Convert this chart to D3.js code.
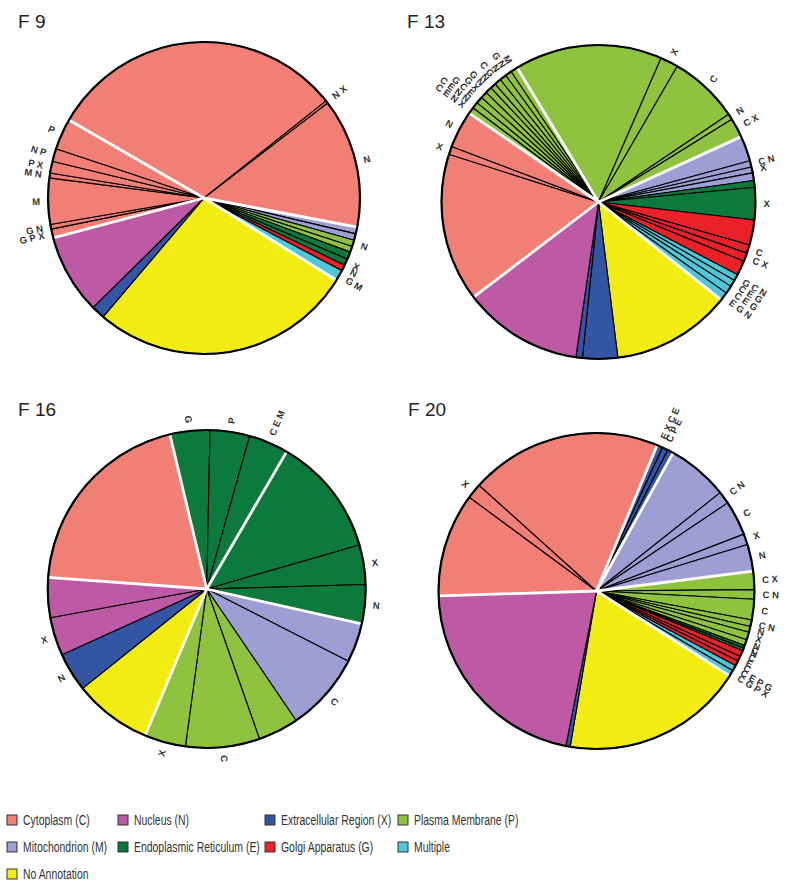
<!DOCTYPE html>
<html>
<head>
<meta charset="utf-8">
<script src="https://cdn.jsdelivr.net/npm/d3@7"></script>
<style>
  body { margin: 0; background: #fff; }
</style>
</head>
<body>
<svg id="chart" width="800" height="888"></svg>
<script>
// categories (legend order), names and fills
var catKeys   = ["C", "N", "X", "P", "M", "E", "G", "Multi", "None"];
var catNames  = ["Cytoplasm (C)", "Nucleus (N)", "Extracellular Region (X)", "Plasma Membrane (P)",
                 "Mitochondrion (M)", "Endoplasmic Reticulum (E)", "Golgi Apparatus (G)", "Multiple",
                 "No Annotation"];
var catColors = ["#f17f76", "#be59a6", "#3454a4", "#8fc23f", "#9d9ed3", "#0d7a3d", "#ea2228", "#4fc7d8", "#f3ec12"];

var panelTitles = ["F 9", "F 13", "F 16", "F 20"];

// slices in clockwise order: [primary category, share, secondary label, white edge before]
var f9 = [
  ["C", 3.3, "G P X", 1], ["C", 1.7, "G N", 0], ["C", 17.2, "M", 0], ["C", 1.8, "M N", 0],
  ["C", 4.4, "P X", 0], ["C", 4.8, "N P", 0], ["C", 11.6, "P", 0], ["C", 111.5, "", 1],
  ["C", 1.0, "N X", 0], ["C", 48.3, "N", 0],
  ["M", 2.5, "", 1], ["M", 2.4, "", 0],
  ["P", 2.4, "N", 0], ["P", 2.2, "", 0],
  ["E", 2.8, "", 0], ["E", 2.4, "X", 0],
  ["G", 2.3, "N", 0],
  ["Multi", 4.0, "G M", 0],
  ["None", 98.5, "", 1],
  ["X", 5.1, "", 0],
  ["N", 29.8, "", 0]
];
var f13 = [
  ["P", 2.4, "C E N X", 1], ["P", 2.4, "C E N N", 0], ["P", 2.5, "G C E", 0], ["P", 2.5, "G X", 0],
  ["P", 2.4, "G N", 0], ["P", 2.1, "N", 0], ["P", 2.5, "C G", 0], ["P", 2.5, "N", 0],
  ["P", 2.4, "G N", 0], ["P", 2.6, "M", 0],
  ["P", 54.7, "", 1], ["P", 6.6, "X", 0], ["P", 25.9, "C", 0], ["P", 2.2, "N", 0], ["P", 7.2, "C X", 0],
  ["M", 9.4, "", 1], ["M", 2.3, "C N", 0], ["M", 2.2, "X", 0], ["M", 2.8, "", 0],
  ["E", 2.5, "", 0], ["E", 12.0, "X", 0],
  ["G", 9.3, "", 0], ["G", 3.1, "C", 0], ["G", 3.2, "C X", 0], ["G", 5.4, "", 0],
  ["Multi", 2.4, "G C N", 0], ["Multi", 2.5, "C E G", 0], ["Multi", 3.0, "C E G", 0], ["Multi", 3.1, "E G N", 0],
  ["None", 44.3, "", 1],
  ["X", 13.0, "", 0], ["X", 2.4, "", 0],
  ["N", 44.4, "", 0],
  ["C", 55.0, "", 1], ["C", 3.0, "X", 0], ["C", 13.8, "N", 0]
];
var f16 = [
  ["E", 14.6, "G", 1], ["E", 14.5, "P", 0], ["E", 14.5, "C E M", 0], ["E", 43.7, "", 1],
  ["E", 14.5, "X", 0], ["E", 14.3, "N", 0],
  ["M", 14.3, "", 1], ["M", 28.8, "C", 0],
  ["P", 14.8, "", 0], ["P", 27.1, "C", 0], ["P", 15.1, "X", 0],
  ["None", 28.5, "", 1],
  ["X", 14.3, "N", 0],
  ["N", 14.0, "X", 0], ["N", 14.6, "", 0],
  ["C", 72.4, "", 1]
];
var f20 = [
  ["C", 38.2, "", 1], ["C", 5.6, "X", 0], ["C", 70.6, "", 0],
  ["X", 2.1, "E X C E", 1], ["X", 2.1, "C P E", 0], ["X", 2.2, "", 0],
  ["M", 22.5, "", 1], ["M", 4.6, "C N", 0], ["M", 12.8, "C", 0], ["M", 4.0, "X", 0], ["M", 9.9, "N", 0],
  ["P", 6.7, "C X", 1], ["P", 3.5, "C N", 0], ["P", 7.6, "C", 0], ["P", 2.4, "C N", 0],
  ["P", 2.1, "N", 0], ["P", 2.9, "X", 0], ["P", 2.2, "N", 0],
  ["E", 1.0, "C", 0], ["E", 1.0, "N", 0],
  ["G", 2.3, "C", 0], ["G", 1.8, "E", 0], ["G", 1.9, "C", 0],
  ["Multi", 2.1, "C E P G", 0], ["Multi", 2.2, "C G P X", 0],
  ["None", 67.1, "", 1],
  ["X", 1.6, "", 0],
  ["N", 77.0, "", 0]
];

var panels = [f9, f13, f16, f20];

// layout
var centers   = [[204, 198], [598.5, 202], [206.7, 589], [596.5, 591]];
var radii     = [156, 157, 159, 158];
var rotations = [255.2, 304.5, 346.6, 268.2];   // degrees clockwise from 12 o'clock
var titlePos  = [[18, 28], [407, 28], [18, 416], [408, 416]];

var svg = d3.select("#chart");
var color = d3.scaleOrdinal().domain(catKeys).range(catColors);
var toRad = Math.PI / 180;

function midDeg(d) {
  var m = ((d.startAngle + d.endAngle) / 2) / toRad;
  return ((m % 360) + 360) % 360;
}

panels.forEach(function(rows, i) {
  var R = radii[i],
      a0 = rotations[i] * toRad;

  var pie = d3.pie().sort(null).value(function(d) { return d[1]; })
              .startAngle(a0).endAngle(a0 + 2 * Math.PI);
  var arcs = pie(rows);
  var arc = d3.arc().innerRadius(0).outerRadius(R);

  svg.append("text")
     .attr("x", titlePos[i][0]).attr("y", titlePos[i][1])
     .attr("font-family", "Liberation Sans, Arial, sans-serif")
     .attr("font-size", 19)
     .attr("fill", "#222")
     .text(panelTitles[i]);

  var g = svg.append("g").attr("transform", "translate(" + centers[i] + ")");

  g.selectAll("path.slice").data(arcs).enter().append("path")
   .attr("class", "slice")
   .attr("d", arc)
   .attr("fill", function(d) { return color(d.data[0]); })
   .attr("stroke", "#000")
   .attr("stroke-width", 1.1)
   .attr("stroke-linejoin", "round");

  //white separators
  g.selectAll("line.sep").data(arcs.filter(function(d) { return d.data[3]; })).enter().append("line")
   .attr("class", "sep")
   .attr("x1", 0).attr("y1", 0)
   .attr("x2", function(d) { return R * Math.sin(d.startAngle); })
   .attr("y2", function(d) { return -R * Math.cos(d.startAngle); })
   .attr("stroke", "#fff")
   .attr("stroke-width", 2.8);

  g.append("circle")
   .attr("r", R)
   .attr("fill", "none")
   .attr("stroke", "#000")
   .attr("stroke-width", 2.2);

  // radial labels, read outward on the right half, inward on the left
  g.selectAll("text.lab").data(arcs.filter(function(d) { return d.data[2]; })).enter().append("text")
   .attr("class", "lab")
   .attr("transform", function(d) {
     var m = midDeg(d);
     var t = "rotate(" + (m - 90) + ") translate(" + (R + 8) + ",0)";
     if (m > 180) t += " rotate(180)";
     return t;
   })
   .attr("text-anchor", function(d) { return midDeg(d) > 180 ? "end" : "start"; })
   .attr("dy", "0.35em")
   .attr("font-family", "Liberation Sans, Arial, sans-serif")
   .attr("font-size", 9.5)
   .attr("font-weight", "bold")
   .attr("fill", "#333")
   .text(function(d) { return d.data[2]; });
});

// legend
var legX = [7, 118, 265, 398],
    legY = [820, 847, 874];

var leg = svg.append("g").selectAll("g").data(catKeys).enter().append("g")
  .attr("transform", function(d, i) {
    return "translate(" + legX[i % 4] + "," + legY[Math.floor(i / 4)] + ")";
  });
leg.append("rect")
   .attr("x", 0).attr("y", -5).attr("width", 10).attr("height", 10)
   .attr("fill", function(d) { return color(d); })
   .attr("stroke", "#333")
   .attr("stroke-width", 1);
leg.append("text")
   .attr("transform", "translate(16,0) scale(0.72,1)")
   .attr("dy", "0.35em")
   .attr("font-family", "Liberation Sans, Arial, sans-serif")
   .attr("font-size", 14.5)
   .attr("fill", "#333")
   .text(function(d, i) { return catNames[i]; });
</script>
</body>
</html>
